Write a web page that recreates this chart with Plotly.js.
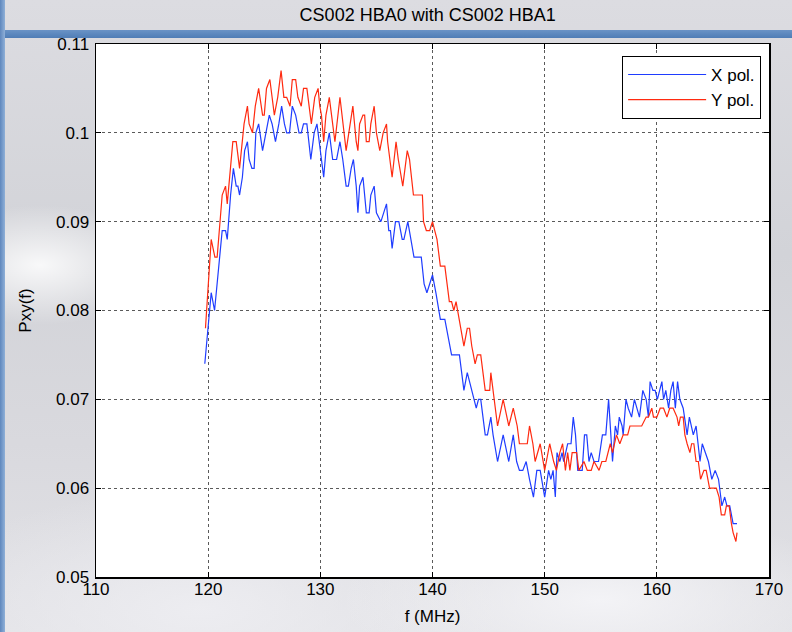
<!DOCTYPE html>
<html>
<head>
<meta charset="utf-8">
<script src="https://cdn.plot.ly/plotly-3.0.1.min.js"></script>
<style>
  html, body { margin: 0; padding: 0; }
  body {
    width: 792px; height: 632px; overflow: hidden; position: relative;
    background:
      radial-gradient(ellipse 120px 60px at 40px 265px, rgba(255,255,255,0.85), rgba(255,255,255,0) 100%),
      radial-gradient(ellipse 260px 90px at 600px 600px, rgba(245,245,248,0.9), rgba(245,245,248,0) 100%),
      radial-gradient(ellipse 300px 120px at 200px 610px, rgba(238,238,242,0.9), rgba(238,238,242,0) 100%),
      linear-gradient(180deg, #dcdce1 0%, #d2d3d8 40%, #d9d9de 70%, #e2e2e6 100%);
  }
  #topbar { position: absolute; left: 0; top: 30px; width: 792px; height: 8px;
            background: linear-gradient(180deg, #6a93c6, #4f7db6); }
  #leftbar { position: absolute; left: 0; top: 0; width: 5px; height: 632px;
             background: linear-gradient(90deg, #5f87bd, #8fb0d8); }
  #chart { position: absolute; left: 0; top: 0; width: 792px; height: 632px; }
</style>
</head>
<body>
<div id="topbar"></div>
<div id="leftbar"></div>
<div id="chart"></div>
<script>
// X pol. (blue)
const freqX = [119.7,120.0,120.27,120.57,121.25,121.55,121.7,122.0,122.25,122.5,122.65,122.8,123.05,123.25,123.5,123.65,123.9,124.1,124.25,124.5,124.85,125.15,125.45,125.7,126.0,126.3,126.55,126.8,127.0,127.25,127.5,127.8,128.1,128.3,128.5,128.8,129.15,129.45,129.7,129.9,130.3,130.5,130.8,131.1,131.45,131.75,132.0,132.3,132.5,132.75,132.95,133.2,133.35,133.5,133.8,134.1,134.35,134.5,134.8,135.0,135.4,135.9,136.1,136.25,136.4,136.7,137.0,137.3,137.45,137.8,138.35,139.0,139.25,139.5,140.0,140.3,140.7,141.1,141.7,142.4,142.8,143.1,143.3,143.5,143.9,144.1,144.3,144.7,144.9,145.2,145.4,145.8,146.3,146.8,147.2,147.5,147.75,148.05,148.35,148.65,149.0,149.3,149.6,150.0,150.35,150.55,150.75,150.95,151.1,151.35,151.55,151.7,151.9,152.05,152.35,152.55,152.75,152.95,153.35,153.55,153.75,153.95,154.15,154.4,154.8,155.15,155.45,155.7,155.9,156.05,156.3,156.5,156.65,156.9,157.0,157.25,157.45,157.75,158.0,158.2,158.45,158.75,159.05,159.25,159.4,159.65,159.85,160.05,160.25,160.45,160.6,160.8,161.05,161.25,161.45,161.65,161.85,162.05,162.35,162.7,162.9,163.1,163.25,163.5,163.85,164.05,164.3,164.6,164.9,165.2,165.5,165.6,165.8,166.05,166.25,166.5,166.8,167.15];
const pxyX = [0.074,0.078,0.082,0.080,0.089,0.089,0.088,0.093,0.096,0.094,0.094,0.093,0.095,0.098,0.099,0.097,0.096,0.096,0.100,0.101,0.098,0.100,0.102,0.101,0.099,0.101,0.103,0.101,0.100,0.100,0.103,0.102,0.100,0.100,0.101,0.101,0.097,0.100,0.101,0.099,0.095,0.098,0.100,0.097,0.097,0.099,0.097,0.094,0.094,0.096,0.097,0.094,0.091,0.094,0.095,0.091,0.091,0.093,0.094,0.091,0.090,0.092,0.089,0.089,0.087,0.090,0.090,0.088,0.088,0.090,0.086,0.086,0.083,0.082,0.084,0.082,0.079,0.079,0.075,0.075,0.071,0.073,0.072,0.071,0.069,0.070,0.070,0.066,0.066,0.068,0.066,0.063,0.066,0.063,0.066,0.063,0.062,0.062,0.063,0.061,0.059,0.062,0.062,0.059,0.062,0.061,0.062,0.059,0.064,0.063,0.064,0.063,0.064,0.065,0.065,0.068,0.066,0.062,0.062,0.066,0.066,0.063,0.064,0.063,0.063,0.066,0.066,0.070,0.066,0.063,0.067,0.066,0.068,0.067,0.066,0.070,0.069,0.068,0.070,0.069,0.068,0.071,0.070,0.068,0.072,0.071,0.071,0.070,0.071,0.072,0.070,0.071,0.069,0.071,0.072,0.069,0.072,0.070,0.069,0.066,0.068,0.067,0.066,0.067,0.063,0.065,0.064,0.063,0.061,0.062,0.061,0.060,0.058,0.059,0.058,0.058,0.056,0.056];

// Y pol. (red)
const freqY = [119.76,120.27,120.6,120.8,121.25,121.55,121.7,122.0,122.2,122.5,122.8,123.2,123.5,123.65,123.95,124.2,124.5,124.85,125.0,125.2,125.5,125.9,126.2,126.5,126.75,127.0,127.3,127.5,127.8,128.0,128.3,128.5,128.8,129.2,129.5,129.8,129.95,130.1,130.3,130.5,130.8,131.0,131.3,131.75,132.3,132.9,133.2,133.35,133.5,133.8,133.95,134.1,134.35,134.5,134.8,135.0,135.3,135.6,135.9,136.0,136.4,136.75,136.95,137.35,137.75,137.95,138.15,138.3,138.7,139.1,139.2,139.45,139.75,140.0,140.2,140.4,140.7,141.1,141.3,141.5,141.7,141.9,142.1,142.4,142.8,143.1,143.3,143.5,143.8,144.0,144.3,144.7,145.1,145.2,145.4,145.8,146.3,146.8,147.2,147.55,147.75,148.05,148.45,148.65,148.95,149.15,149.6,150.0,150.45,150.8,151.05,151.35,151.6,151.85,152.05,152.25,152.45,152.85,153.05,153.5,153.8,154.15,154.4,154.85,155.1,155.45,155.65,155.85,156.05,156.4,156.7,157.0,157.4,157.6,158.65,159.05,159.25,159.55,159.7,160.0,160.3,160.6,160.9,161.15,161.45,161.8,161.95,162.1,162.35,162.5,162.7,162.95,163.1,163.3,163.5,163.7,163.9,164.2,164.4,164.7,165.3,165.55,165.75,166.05,166.2,166.45,166.65,166.8,167.05,167.15];
const pxyY = [0.078,0.088,0.086,0.086,0.093,0.094,0.092,0.096,0.099,0.099,0.096,0.101,0.103,0.101,0.100,0.103,0.105,0.102,0.102,0.105,0.106,0.102,0.104,0.107,0.104,0.104,0.103,0.106,0.106,0.104,0.103,0.105,0.105,0.101,0.104,0.105,0.103,0.102,0.099,0.102,0.104,0.102,0.099,0.104,0.098,0.103,0.099,0.098,0.101,0.102,0.102,0.099,0.099,0.101,0.103,0.100,0.098,0.100,0.101,0.099,0.095,0.099,0.097,0.094,0.098,0.097,0.095,0.093,0.093,0.093,0.090,0.089,0.089,0.090,0.089,0.088,0.085,0.085,0.083,0.081,0.081,0.080,0.081,0.079,0.076,0.078,0.078,0.076,0.074,0.075,0.075,0.071,0.071,0.073,0.071,0.067,0.070,0.067,0.069,0.067,0.065,0.065,0.065,0.067,0.065,0.063,0.065,0.062,0.065,0.063,0.062,0.064,0.065,0.062,0.064,0.062,0.064,0.064,0.062,0.063,0.062,0.062,0.063,0.062,0.063,0.063,0.064,0.065,0.064,0.066,0.065,0.066,0.066,0.067,0.067,0.068,0.068,0.069,0.068,0.068,0.069,0.069,0.068,0.069,0.069,0.068,0.067,0.068,0.068,0.066,0.065,0.064,0.065,0.065,0.063,0.063,0.061,0.062,0.062,0.060,0.060,0.059,0.057,0.057,0.058,0.058,0.056,0.055,0.054,0.055];

const seriesNames = ['X pol.', 'Y pol.'];
const titleText = 'CS002 HBA0 with CS002 HBA1';
const xTickVals = [110, 120, 130, 140, 150, 160, 170];
const yTickVals = [0.05, 0.06, 0.07, 0.08, 0.09, 0.1, 0.11];
const yTickText = ['0.05', '0.06', '0.07', '0.08', '0.09', '0.1', '0.11'];

const font = 'Liberation Sans, Arial, Helvetica, sans-serif';

const traces = [
  { x: freqX, y: pxyX, name: seriesNames[0], type: 'scatter', mode: 'lines',
    line: { color: '#1f3dff', width: 1.2 } },
  { x: freqY, y: pxyY, name: seriesNames[1], type: 'scatter', mode: 'lines',
    line: { color: '#ff2a10', width: 1.2 } }
];

const axisCommon = {
  showline: true, linecolor: '#000', linewidth: 1.5, mirror: 'allticks',
  ticks: 'inside', ticklen: 5, tickcolor: '#000', tickwidth: 1,
  showgrid: true, gridcolor: '#5a5a5a', gridwidth: 1, griddash: 'dot',
  zeroline: false, tickfont: { family: font, size: 17, color: '#000' }
};

const layout = {
  width: 792, height: 632,
  margin: { l: 96, r: 23, t: 44, b: 55 },
  paper_bgcolor: 'rgba(0,0,0,0)',
  plot_bgcolor: '#ffffff',
  title: { text: titleText, x: 0.54, xanchor: 'center', y: 0.976, yanchor: 'middle',
           font: { family: font, size: 18, color: '#000' } },
  xaxis: Object.assign({}, axisCommon, {
    range: [110, 170], tickvals: xTickVals, ticklabelstandoff: -4,
    title: { text: 'f (MHz)', font: { family: font, size: 17, color: '#000' }, standoff: 12 }
  }),
  yaxis: Object.assign({}, axisCommon, {
    range: [0.05, 0.11], tickvals: yTickVals, ticktext: yTickText, ticklabelstandoff: 2,
    title: { text: 'Pxy(f)', font: { family: font, size: 17, color: '#000' }, standoff: 20 }
  }),
  showlegend: true,
  legend: {
    x: 0.988, xanchor: 'right', y: 0.978, yanchor: 'top',
    bgcolor: '#ffffff', bordercolor: '#000', borderwidth: 1.2,
    font: { family: font, size: 17, color: '#000' },
    itemwidth: 78, tracegroupgap: 0
  }
};

Plotly.newPlot('chart', traces, layout, { staticPlot: true, displayModeBar: false });
</script>
</body>
</html>
